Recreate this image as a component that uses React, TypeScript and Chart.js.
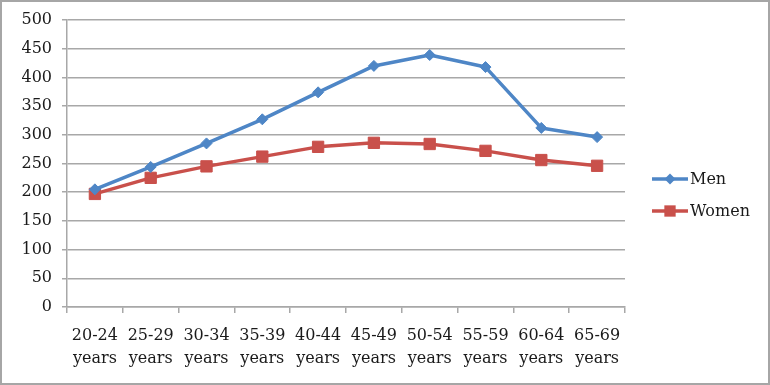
import React, { useEffect, useRef } from "react";
import { Chart, registerables } from "chart.js";

Chart.register(...registerables);

const categories = ["20-24", "25-29", "30-34", "35-39", "40-44", "45-49", "50-54", "55-59", "60-64", "65-69"];
const categoryUnit = "years";
const menValues = [205, 244, 285, 327, 374, 420, 439, 418, 312, 296];
const womenValues = [197, 225, 245, 262, 279, 286, 284, 272, 256, 246];
const yTicks = [0, 50, 100, 150, 200, 250, 300, 350, 400, 450, 500];

const MEN_COLOR = "#4E86C6";
const WOMEN_COLOR = "#C9504B";
const GRID = "#a8a8a8";
const FONT = "'DejaVu Serif', serif";

const framePlugin = {
  id: "frameAndLegend",
  afterDraw(chart: any) {
    const ctx = chart.ctx;
    ctx.save();
    ctx.strokeStyle = "#a6a6a6";
    ctx.lineWidth = 2;
    ctx.strokeRect(1, 1, chart.width - 2, chart.height - 2);

    const items = chart.data.datasets.map((ds: any) => ({
      label: ds.label,
      color: ds.borderColor,
      style: ds.pointStyle,
      radius: ds.pointRadius,
    }));
    const x0 = 652;
    const lineLen = 36;
    let y = 179;
    ctx.font = `16px ${FONT}`;
    ctx.textBaseline = "middle";
    for (const it of items) {
      ctx.strokeStyle = it.color;
      ctx.lineWidth = 3.5;
      ctx.beginPath();
      ctx.moveTo(x0, y);
      ctx.lineTo(x0 + lineLen, y);
      ctx.stroke();
      const cx = x0 + lineLen / 2;
      ctx.fillStyle = it.color;
      ctx.beginPath();
      if (it.style === "rectRot") {
        const r = it.radius;
        ctx.moveTo(cx - r, y);
        ctx.lineTo(cx, y - r);
        ctx.lineTo(cx + r, y);
        ctx.lineTo(cx, y + r);
        ctx.closePath();
      } else {
        const s = it.radius * Math.SQRT1_2;
        ctx.rect(cx - s, y - s, 2 * s, 2 * s);
      }
      ctx.fill();
      ctx.fillStyle = "#1a1a1a";
      ctx.textAlign = "left";
      ctx.fillText(it.label, x0 + lineLen + 2, y + 1);
      y += 32;
    }
    ctx.restore();
  },
};

export default function App() {
  const ref = useRef<HTMLCanvasElement>(null);
  useEffect(() => {
    document.body.style.margin = "0";
    const canvas = ref.current!;
    const chart = new Chart(canvas, {
      type: "line",
      data: {
        labels: categories.map((c) => [c, categoryUnit]),
        datasets: [
          {
            label: "Men",
            data: menValues,
            borderColor: MEN_COLOR,
            backgroundColor: MEN_COLOR,
            borderWidth: 3.5,
            borderJoinStyle: "round",
            borderCapStyle: "round",
            pointStyle: "rectRot",
            pointRadius: 5.5,
            pointBorderWidth: 1,
            tension: 0,
          },
          {
            label: "Women",
            data: womenValues,
            borderColor: WOMEN_COLOR,
            backgroundColor: WOMEN_COLOR,
            borderWidth: 3.5,
            borderJoinStyle: "round",
            borderCapStyle: "round",
            pointStyle: "rect",
            pointRadius: 8,
            pointBorderWidth: 1,
            tension: 0,
          },
        ],
      },
      options: {
        responsive: false,
        animation: false,
        devicePixelRatio: 1,
        layout: { padding: { top: 20, right: 145, bottom: 0, left: 0 } },
        plugins: {
          legend: { display: false },
          tooltip: { enabled: false },
        },
        scales: {
          x: {
            offset: true,
            grid: {
              offset: true,
              drawOnChartArea: false,
              drawTicks: true,
              tickLength: 6,
              color: GRID,
              lineWidth: 1.5,
            },
            border: { display: true, color: GRID, width: 1.5 },
            ticks: {
              color: "#1a1a1a",
              font: { family: FONT, size: 16, lineHeight: 1.45 },
              padding: 11,
              maxRotation: 0,
              autoSkip: false,
            },
            afterFit(scale: any) {
              scale.height = 78;
            },
          },
          y: {
            min: 0,
            max: 500,
            afterBuildTicks(scale: any) {
              scale.ticks = yTicks.map((v) => ({ value: v }));
            },
            grid: {
              color: GRID,
              lineWidth: 1.5,
              drawTicks: true,
              tickLength: 5,
            },
            border: { display: true, color: GRID, width: 1.5 },
            ticks: {
              color: "#1a1a1a",
              font: { family: FONT, size: 16 },
              padding: 10,
            },
            afterFit(scale: any) {
              scale.width = 67;
            },
          },
        },
      },
      plugins: [framePlugin],
    });
    return () => chart.destroy();
  }, []);
  return <canvas ref={ref} width={770} height={385} style={{ display: "block" }} />;
}
